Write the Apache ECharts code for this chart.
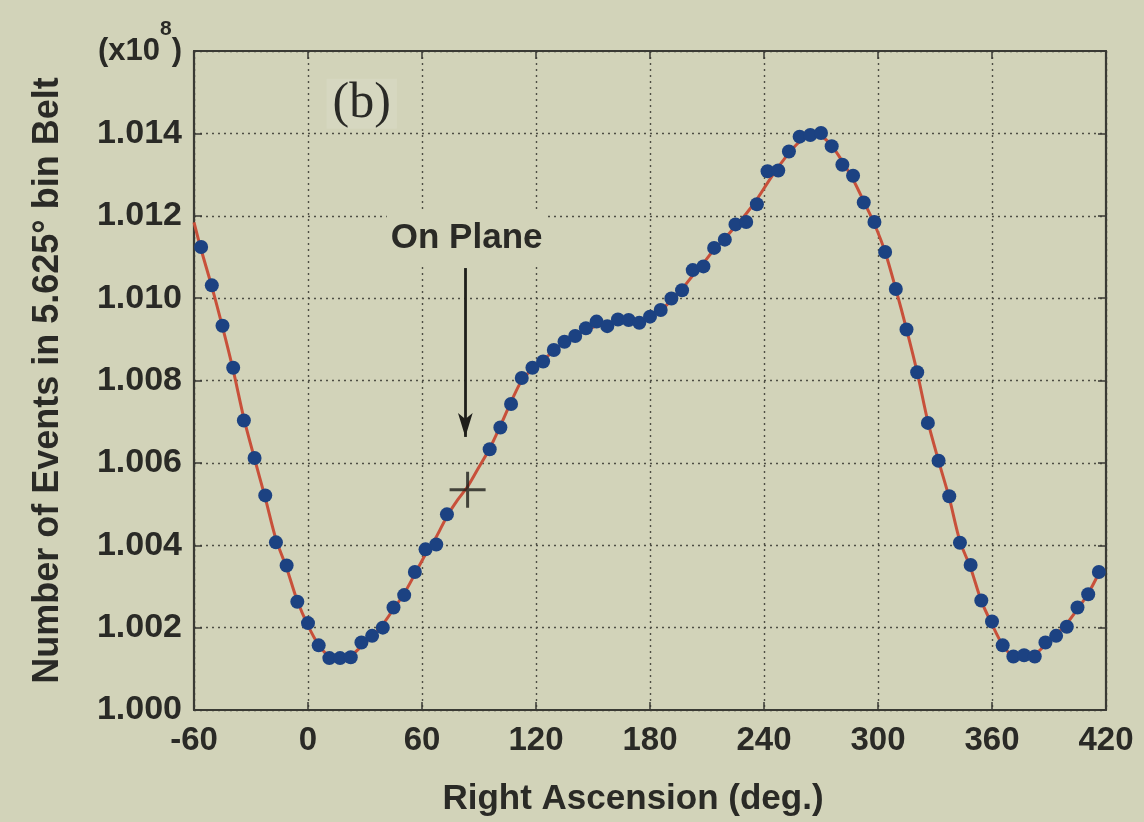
<!DOCTYPE html>
<html>
<head>
<meta charset="utf-8">
<script src="https://cdn.jsdelivr.net/npm/echarts@6/dist/echarts.min.js"></script>
<style>
html,body{margin:0;padding:0;background:#d2d3b9;}
#c{width:1144px;height:822px;}
</style>
</head>
<body>
<div id="c"></div>
<script>
// Right ascension bin centres (deg), 5.625 deg bins
const raDeg = [-56.25, -50.625, -45, -39.375, -33.75, -28.125, -22.5, -16.875, -11.25, -5.625,
  0, 5.625, 11.25, 16.875, 22.5, 28.125, 33.75, 39.375, 45, 50.625,
  56.25, 61.875, 67.5, 73.125, 78.75, 84.375, 90, 95.625, 101.25, 106.875,
  112.5, 118.125, 123.75, 129.375, 135, 140.625, 146.25, 151.875, 157.5, 163.125,
  168.75, 174.375, 180, 185.625, 191.25, 196.875, 202.5, 208.125, 213.75, 219.375,
  225, 230.625, 236.25, 241.875, 247.5, 253.125, 258.75, 264.375, 270, 275.625,
  281.25, 286.875, 292.5, 298.125, 303.75, 309.375, 315, 320.625, 326.25, 331.875,
  337.5, 343.125, 348.75, 354.375, 360, 365.625, 371.25, 376.875, 382.5, 388.125,
  393.75, 399.375, 405, 410.625, 416.25];

// Number of events (x10^8), data points (null = no dot drawn)
const events = [1.01124, 1.01031, 1.00933, 1.00831, 1.00703, 1.00612, 1.00521, 1.00407, 1.00351, 1.00263,
  1.00211, 1.00157, 1.00126, 1.00126, 1.00128, 1.00164, 1.00180, 1.00200, 1.00249, 1.00279,
  1.00335, 1.00390, 1.00402, 1.00475, null, null, null, 1.00633, 1.00686, 1.00743,
  1.00806, 1.00831, 1.00846, 1.00874, 1.00894, 1.00908, 1.00927, 1.00943, 1.00932, 1.00948,
  1.00947, 1.00940, 1.00955, 1.00971, 1.00999, 1.01019, 1.01068, 1.01077, 1.01122, 1.01142,
  1.01179, 1.01185, 1.01228, 1.01308, 1.01310, 1.01356, 1.01392, 1.01396, 1.01401, 1.01369,
  1.01324, 1.01297, 1.01232, 1.01185, 1.01112, 1.01022, 1.00924, 1.00820, 1.00697, 1.00605,
  1.00519, 1.00406, 1.00352, 1.00266, 1.00215, 1.00157, 1.00130, 1.00133, 1.00130, 1.00164,
  1.00180, 1.00202, 1.00249, 1.00281, 1.00335];

// Fitted curve (red line), read at the left edge and at each bin centre
const fitStartDeg = -60;
const fitStartValue = 1.01184;
const fit = [1.01118, 1.01028, 1.00930, 1.00825, 1.00708, 1.00610, 1.00515, 1.00415, 1.00345, 1.00265,
  1.00205, 1.00158, 1.00130, 1.00125, 1.00132, 1.00155, 1.00180, 1.00208, 1.00245, 1.00283,
  1.00330, 1.00378, 1.00420, 1.00470, 1.00510, 1.00545, 1.00590, 1.00635, 1.00690, 1.00748,
  1.00800, 1.00828, 1.00850, 1.00872, 1.00892, 1.00908, 1.00922, 1.00933, 1.00940, 1.00944,
  1.00945, 1.00946, 1.00955, 1.00970, 1.00995, 1.01022, 1.01055, 1.01085, 1.01118, 1.01145,
  1.01175, 1.01205, 1.01240, 1.01280, 1.01318, 1.01352, 1.01380, 1.01395, 1.01393, 1.01370,
  1.01332, 1.01288, 1.01235, 1.01180, 1.01112, 1.01022, 1.00925, 1.00820, 1.00700, 1.00605,
  1.00515, 1.00410, 1.00345, 1.00265, 1.00208, 1.00158, 1.00130, 1.00127, 1.00135, 1.00158,
  1.00183, 1.00210, 1.00245, 1.00283, 1.00332];

// Annotations
const onPlane = [84, 1.00535];
const arrowFrom = [82.8, 1.01073];
const arrowTo = [82.8, 1.00663];
const onPlaneLabelAt = [83.5, 1.01145];
const panelLabelAt = [28.3, 1.01472];

const xTicks = {min: -60, max: 420, interval: 60};
const yTicks = {min: 1.000, max: 1.016, interval: 0.002};

const BG = '#d2d3b9';
const INK = '#2a2a26';
const FONT = '"Liberation Sans", Arial, sans-serif';

const eventsData = raDeg.map((d, i) => [d, events[i]]).filter(p => p[1] !== null);
const fitData = [[fitStartDeg, fitStartValue]].concat(raDeg.map((d, i) => [d, fit[i]]));

const chart = echarts.init(document.getElementById('c'), null, {renderer: 'canvas'});

const gridLine = {show: true, lineStyle: {color: '#4e4e44', width: 1.4, type: [2, 4]}};
const axisLine = {show: true, onZero: false, lineStyle: {color: '#3a3a34', width: 2.2}};
const tick = {show: true, inside: true, length: 8, lineStyle: {color: '#3a3a34', width: 1.5}};

chart.setOption({
  backgroundColor: BG,
  animation: false,
  grid: {left: 194, right: 38, top: 51, bottom: 111, containLabel: false},
  xAxis: [{
    type: 'value', position: 'bottom',
    min: xTicks.min, max: xTicks.max, interval: xTicks.interval,
    axisLine: axisLine, axisTick: tick,
    axisLabel: {show: true, showMinLabel: true, showMaxLabel: true, margin: 14,
      color: INK, fontSize: 33, fontFamily: FONT, fontWeight: 'bold'},
    splitLine: gridLine,
    name: 'Right Ascension (deg.)', nameLocation: 'middle', nameGap: 72,
    nameTextStyle: {color: INK, fontSize: 35, fontFamily: FONT, fontWeight: 'bold', padding: [0, 34, 0, 0]}
  }, {
    type: 'value', position: 'top',
    min: xTicks.min, max: xTicks.max, interval: xTicks.interval,
    axisLine: axisLine, axisTick: tick,
    axisLabel: {show: false}, splitLine: {show: false}
  }],
  yAxis: [{
    type: 'value', position: 'left',
    min: yTicks.min, max: yTicks.max, interval: yTicks.interval,
    axisLine: axisLine, axisTick: tick,
    axisLabel: {show: true, showMinLabel: true, showMaxLabel: true, margin: 12,
      color: INK, fontSize: 34, fontFamily: FONT, fontWeight: 'bold',
      formatter: function (v) {
        if (Math.abs(v - yTicks.max) < 1e-9) return '{a|(x10}{s|8}{a|)}';
        return v.toFixed(3);
      },
      rich: {
        a: {fontSize: 31, fontFamily: FONT, fontWeight: 'bold', color: INK},
        s: {fontSize: 21, fontFamily: FONT, fontWeight: 'bold', color: INK, padding: [0, 0, 44, 0]}
      }
    },
    splitLine: gridLine,
    name: 'Number of Events in 5.625\u00B0 bin Belt', nameLocation: 'middle', nameGap: 128,
    nameTextStyle: {color: INK, fontSize: 36, fontFamily: FONT, fontWeight: 'bold'}
  }, {
    type: 'value', position: 'right',
    min: yTicks.min, max: yTicks.max, interval: yTicks.interval,
    axisLine: axisLine, axisTick: tick,
    axisLabel: {show: false}, splitLine: {show: false}
  }],
  series: [{
    name: 'fit', type: 'line', data: fitData, smooth: 0.3,
    showSymbol: false, symbol: 'none', z: 3,
    lineStyle: {color: '#c8503a', width: 3},
    markLine: {
      silent: true, symbol: ['none', 'arrow'], symbolSize: [11, 24],
      label: {show: false},
      lineStyle: {color: '#1e1e1a', width: 2.8, type: 'solid'},
      data: [[{coord: arrowFrom}, {coord: arrowTo}]]
    },
    markPoint: {
      silent: true, symbol: 'rect', symbolSize: 0,
      data: [{
        coord: onPlaneLabelAt,
        label: {show: true, position: 'inside', formatter: 'On Plane', color: INK,
          fontSize: 35, fontFamily: FONT, fontWeight: 'bold',
          backgroundColor: BG, padding: [10, 4]}
      }, {
        coord: panelLabelAt,
        label: {show: true, position: 'inside', formatter: '(b)', color: '#2a2a26',
          fontSize: 50, fontFamily: '"Liberation Serif", "Times New Roman", serif',
          backgroundColor: '#d6d7c0', padding: [0, 6]}
      }]
    }
  }, {
    name: 'events', type: 'scatter', data: eventsData, z: 4,
    symbol: 'circle', symbolSize: 14,
    itemStyle: {color: '#1c4282', opacity: 1}
  }, {
    name: 'on plane', type: 'scatter', data: [onPlane], z: 5,
    symbol: 'path://M0,-10L0,10M-10,0L10,0', symbolSize: 36,
    itemStyle: {color: 'none', borderColor: '#1e1e1a', borderWidth: 3}
  }]
});
</script>
</body>
</html>
